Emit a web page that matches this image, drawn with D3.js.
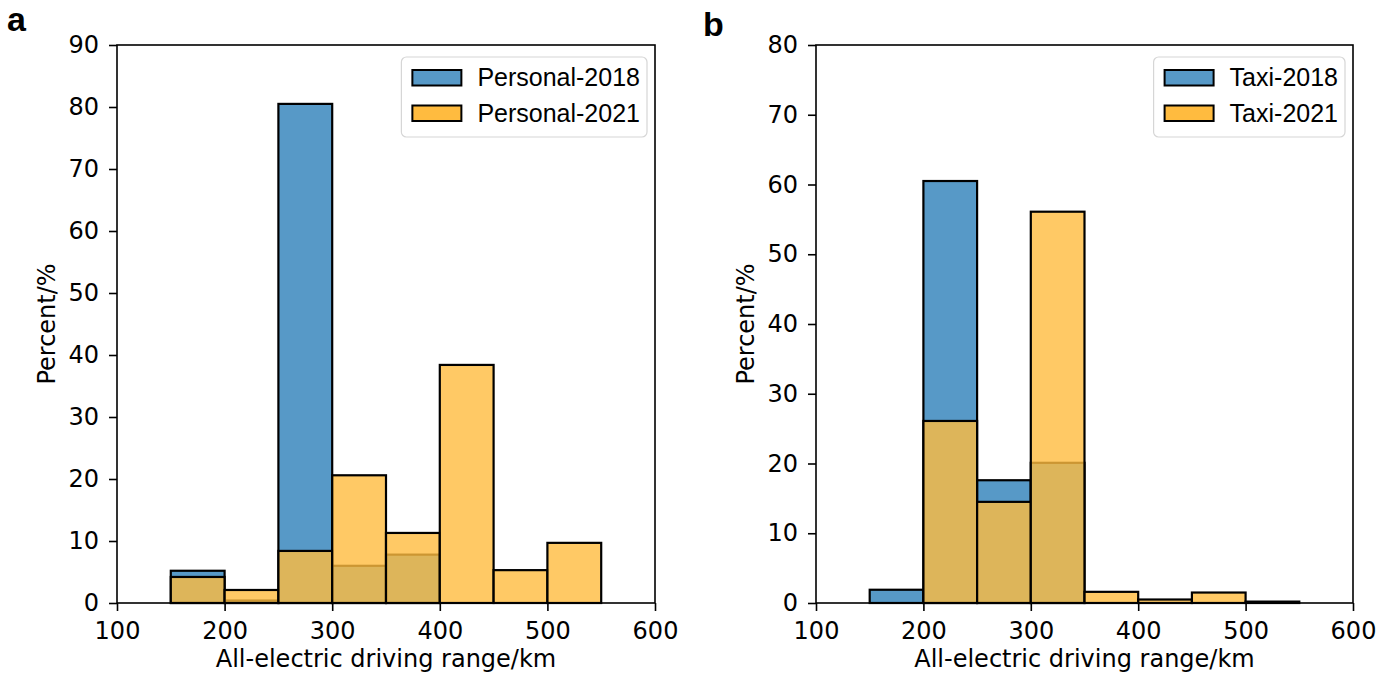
<!DOCTYPE html>
<html>
<head>
<meta charset="utf-8">
<script src="https://cdn.jsdelivr.net/npm/d3@7"></script>
<style>
  body { margin: 0; background: #fff; }
  .tick text { font-family: "DejaVu Sans", sans-serif; font-size: 24px; fill: #000; }
  .tick line { stroke: #000; stroke-width: 1.6px; }
  .axisLabel { font-family: "DejaVu Sans", sans-serif; font-size: 24px; fill: #000; }
  .legendText { font-family: "Liberation Sans", Arial, sans-serif; font-size: 25px; fill: #000; }
  .panelLetter { font-family: "Liberation Sans", Arial, sans-serif; font-size: 34px; font-weight: bold; fill: #000; }
</style>
</head>
<body>
<div id="chart"></div>
<script>
    // histogram bins (km)
    const binEdges = [150, 200, 250, 300, 350, 400, 450, 500, 550];

    // percent per bin
    const personal2018 = [5.2, 0.4, 80.5, 6.0, 7.8, 0, 0, 0];
    const personal2021 = [4.2, 2.1, 8.4, 20.6, 11.3, 38.4, 5.3, 9.7];
    const taxi2018 = [1.9, 60.5, 17.6, 20.1, 0, 0, 0, 0];
    const taxi2021 = [0, 26.1, 14.5, 56.1, 1.6, 0.5, 1.5, 0.2];

    const xTicks = [100, 200, 300, 400, 500, 600];

    const blue = "#5799c7",
        yellow = "#ffbb3f",
        yellowAlpha = 0.8;

    let svg = d3.select("#chart")
        .append("svg")
        .attr("width", 1391)
        .attr("height", 680);

    let panels = [
        {letter: "a", left: 117, right: 655, yMax: 90, s1: personal2018, s2: personal2021,
         names: ["Personal-2018", "Personal-2021"], letterX: 7, letterY: 31},
        {letter: "b", left: 816, right: 1353, yMax: 80, s1: taxi2018, s2: taxi2021,
         names: ["Taxi-2018", "Taxi-2021"], letterX: 703, letterY: 36}
    ];

    const plotTop = 45, plotBottom = 603;

    panels.forEach(function(p){
        let g = svg.append("g");

        let x = d3.scaleLinear()
            .domain([100, 600])
            .range([p.left, p.right]);

        let y = d3.scaleLinear()
            .domain([0, p.yMax])
            .range([plotBottom, plotTop]);

        let bins1 = p.s1.map((v, i) => ({x0: binEdges[i], x1: binEdges[i + 1], v: v})).filter(d => d.v > 0);
        let bins2 = p.s2.map((v, i) => ({x0: binEdges[i], x1: binEdges[i + 1], v: v})).filter(d => d.v > 0);

        // bars 2018 (under)
        g.selectAll(".bar2018")
            .data(bins1)
            .join("rect")
            .attr("class", "bar2018")
            .attr("x", d => x(d.x0))
            .attr("y", d => y(d.v))
            .attr("width", d => x(d.x1) - x(d.x0))
            .attr("height", d => y(0) - y(d.v))
            .attr("fill", blue)
            .attr("stroke", "#000")
            .attr("stroke-width", 2.2);

        // bars 2021 (over, translucent)
        g.selectAll(".bar2021")
            .data(bins2)
            .join("rect")
            .attr("class", "bar2021")
            .attr("x", d => x(d.x0))
            .attr("y", d => y(d.v))
            .attr("width", d => x(d.x1) - x(d.x0))
            .attr("height", d => y(0) - y(d.v))
            .attr("fill", yellow)
            .attr("fill-opacity", yellowAlpha)
            .attr("stroke", "#000")
            .attr("stroke-width", 2.2);

        // axes
        let xAxis = g.append("g")
            .attr("transform", `translate(0, ${plotBottom})`)
            .call(d3.axisBottom(x).tickValues(xTicks).tickSize(8).tickPadding(11));
        xAxis.select(".domain").remove();

        let yAxis = g.append("g")
            .attr("transform", `translate(${p.left}, 0)`)
            .call(d3.axisLeft(y).ticks(p.yMax / 10).tickSize(8).tickPadding(10));
        yAxis.select(".domain").remove();

        // frame
        g.append("rect")
            .attr("x", p.left)
            .attr("y", plotTop)
            .attr("width", p.right - p.left)
            .attr("height", plotBottom - plotTop)
            .attr("fill", "none")
            .attr("stroke", "#000")
            .attr("stroke-width", 1.6);

        // labels
        g.append("text")
            .attr("class", "axisLabel")
            .attr("text-anchor", "middle")
            .attr("x", (p.left + p.right) / 2)
            .attr("y", 667)
            .text("All-electric driving range/km");

        g.append("text")
            .attr("class", "axisLabel")
            .attr("text-anchor", "middle")
            .attr("transform", `translate(${p.left - 62}, ${(plotTop + plotBottom) / 2}) rotate(-90)`)
            .text("Percent/%");

        g.append("text")
            .attr("class", "panelLetter")
            .attr("x", p.letterX)
            .attr("y", p.letterY)
            .text(p.letter);

        // legend
        let leg = g.append("g");
        let box = leg.append("rect")
            .attr("y", 57)
            .attr("height", 80)
            .attr("rx", 5)
            .attr("fill", "#fff")
            .attr("fill-opacity", 0.8)
            .attr("stroke", "#d6d6d6")
            .attr("stroke-width", 1.2);

        let maxW = 0;
        p.names.forEach(function(name, i){
            let t = leg.append("text")
                .attr("class", "legendText")
                .attr("x", 76)
                .attr("y", 86 + i * 35.5)
                .text(name);
            maxW = Math.max(maxW, t.node().getComputedTextLength());
        });
        let boxW = 76 + maxW + 7;
        let bx = p.right - 8 - boxW;
        box.attr("x", 0).attr("width", boxW);

        [blue, yellow].forEach(function(c, i){
            leg.append("rect")
                .attr("x", 11)
                .attr("y", 70 + i * 35.5)
                .attr("width", 49)
                .attr("height", 15.5)
                .attr("fill", c)
                .attr("stroke", "#000")
                .attr("stroke-width", 2);
        });
        leg.attr("transform", `translate(${bx}, 0)`);
    });
</script>
</body>
</html>
